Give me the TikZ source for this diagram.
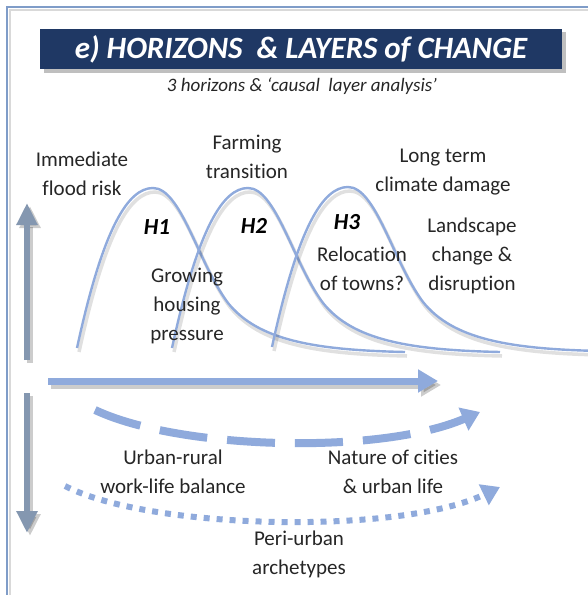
\documentclass[tikz,border=0pt]{standalone}
\usepackage{fontspec}
\setmainfont{Carlito}[Ligatures=NoCommon]
\usetikzlibrary{arrows.meta}
\definecolor{navy}{HTML}{1F3864}
\definecolor{curveblue}{HTML}{8FAADC}
\definecolor{slateblue}{HTML}{8497B0}
\definecolor{framecol}{HTML}{7F9CC8}
\definecolor{txt}{HTML}{262626}
\tikzset{
  lbl/.style={text=txt, align=center, inner sep=0pt, font=\fontsize{21}{29}\selectfont},
  hlbl/.style={text=black, inner sep=0pt, font=\fontsize{23}{27}\selectfont\bfseries\itshape},
  curve/.style={draw=curveblue, line width=2.4pt},
  curveshadow/.style={draw=black, opacity=0.12, line width=3.5pt},
  bigarrow/.style={line width=7pt, -{Triangle[length=20pt,width=22pt]}},
  vertarrow/.style={draw=slateblue, line width=6pt, -{Triangle[length=22pt,width=20pt]}},
  arrshadow/.style={draw=black, opacity=0.2},
}
\newcommand\horizonpath{(-76,160) .. controls (-50,40) and (-25,0) .. (0,0) .. controls (28,0) and (45,75) .. (75,115) .. controls (105,152) and (160,162) .. (252,164)}
\begin{document}
\begin{tikzpicture}[x=1pt,y=-1pt]
\useasboundingbox (0,0) rectangle (587,595);
\fill[white] (0,0) rectangle (587,595);
% frame
\draw[black!15, line width=2pt] (10,600) -- (10,10) -- (600,10);
\draw[framecol, line width=1.5pt] (7,600) -- (7,7) -- (600,7);
% title
\fill[black, opacity=0.25] (44,32) rectangle (566,73);
\fill[navy] (40,29) rectangle (562,69);
\node[text=white, inner sep=0pt, font=\fontsize{31}{34}\selectfont\bfseries\itshape] (title) at (301,49) {e) HORIZONS\ \ \& LAYERS of CHANGE};
\node[text=txt, inner sep=0pt, font=\fontsize{19}{22}\selectfont\itshape] (subtitle) at (302,86) {3 horizons \& ‘causal\ \ layer analysis’};
% curves
\foreach \px/\py in {153/188, 248/188, 348/187}{
  \begin{scope}[shift={(\px+2,\py+4)}]
    \draw[curveshadow] \horizonpath;
  \end{scope}
  \begin{scope}[shift={(\px,\py)}]
    \draw[curve] \horizonpath;
  \end{scope}
}
% coordinates for arrows
\coordinate (upS) at (27,360);
\coordinate (upE) at (27,203);
\coordinate (dnS) at (27,393);
\coordinate (dnE) at (27,533);
\coordinate (hS) at (48,381);
\coordinate (hE) at (438,381);
\coordinate (daS) at (95,410);
\coordinate (daE) at (480,412);
\coordinate (doS) at (65,486);
\coordinate (doE) at (500,487);
% shadows of arrows
\draw[arrshadow, line width=6pt, -{Triangle[length=22pt,width=20pt]}] ([shift={(3,3)}]upS) -- ([shift={(3,3)}]upE);
\draw[arrshadow, line width=6pt, -{Triangle[length=22pt,width=20pt]}] ([shift={(3,3)}]dnS) -- ([shift={(3,3)}]dnE);
\draw[arrshadow, bigarrow] ([shift={(3,4)}]hS) -- ([shift={(3,4)}]hE);
% arrows
\draw[vertarrow] (upS) -- (upE);
\draw[vertarrow] (dnS) -- (dnE);
\draw[draw=curveblue, bigarrow] (hS) -- (hE);
\draw[draw=curveblue, line width=8pt, dash pattern=on 48pt off 20pt, -{Triangle[length=18pt,width=24pt]}]
  (daS) .. controls (180,450) and (380,455) .. (daE);
\draw[draw=curveblue, line width=6pt, dash pattern=on 6pt off 7pt, -{Triangle[length=18pt,width=22pt]}]
  (doS) .. controls (150,530) and (400,535) .. (doE);
% labels
\node[lbl] (flood) at (82,173.5) {Immediate\\flood risk};
\node[lbl] (farm) at (247,157) {Farming\\transition};
\node[lbl] (climate) at (443,172) {Long term\\climate damage};
\node[hlbl] (h1) at (157,227) {H1};
\node[hlbl] (h2) at (254,226) {H2};
\node[hlbl] (h3) at (347,222) {H3};
\node[lbl] (housing) at (187,306) {Growing\\housing\\pressure};
\node[lbl] (reloc) at (362,269) {Relocation\\of towns?};
\node[lbl] (landscape) at (472,256) {Landscape\\change \&\\disruption};
\node[lbl] (urbrur) at (173,472) {Urban-rural\\work-life balance};
\node[lbl] (nature) at (393,472) {Nature of cities\\\& urban life};
\node[lbl] (peri) at (299,554) {Peri-urban\\archetypes};
\end{tikzpicture}
\end{document}
